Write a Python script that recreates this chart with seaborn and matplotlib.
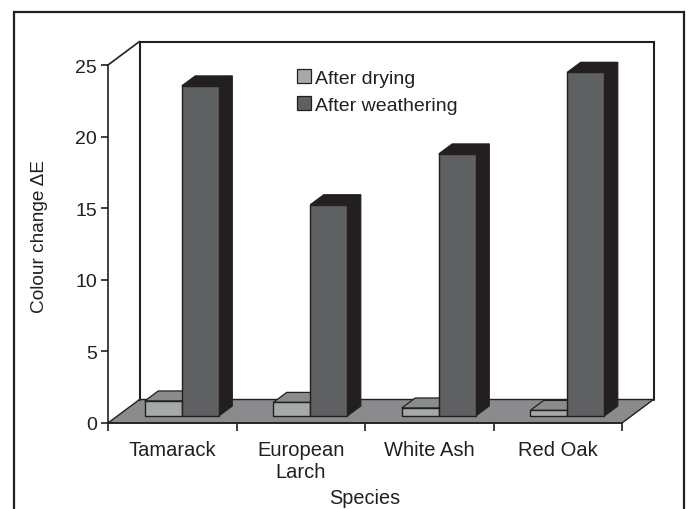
import matplotlib
matplotlib.use("Agg")
import matplotlib.pyplot as plt
import pandas as pd
import seaborn as sns
from matplotlib.lines import Line2D
from matplotlib.patches import Polygon, Rectangle, Patch
from matplotlib.transforms import Affine2D

species = ["Tamarack", "European\nLarch", "White Ash", "Red Oak"]
after_drying = [1.05, 0.95, 0.56, 0.39]
after_weathering = [23.05, 14.75, 18.3, 24.0]
series_names = ["After drying", "After weathering"]
y_ticks = [0, 5, 10, 15, 20, 25]

INK = "#231f20"
FRONT = ["#a6a9aa", "#5f6062"]
TOP = ["#8a8b8d", INK]
SIDE = ["#8a8b8d", INK]
FLOOR = "#8a8b8d"

W, H = 688, 510
sns.set_theme(style="white")
plt.rcParams["font.family"] = ["Liberation Sans", "DejaVu Sans"]
plt.rcParams["text.color"] = INK
plt.rcParams["axes.labelcolor"] = INK
plt.rcParams["xtick.color"] = INK
plt.rcParams["ytick.color"] = INK

fig = plt.figure(figsize=(W / 100, H / 100), dpi=100)
L, R, T, B = 108, 622, 66, 424
ax = fig.add_axes([L / W, 1 - B / H, (R - L) / W, (B - T) / H])

df = pd.DataFrame({
    "Species": species * 2,
    "Series": [series_names[0]] * 4 + [series_names[1]] * 4,
    "Change": after_drying + after_weathering,
})
sns.barplot(data=df, x="Species", y="Change", hue="Series", hue_order=series_names,
            palette=FRONT, width=0.576, gap=0, saturation=1, legend=False, ax=ax,
            edgecolor=INK, linewidth=1.0, errorbar=None)
ax.set_xlim(-0.5, 3.5)
ax.set_ylim(0, 25)


def shift(dx, dy):
    return ax.transData + Affine2D().translate(dx, dy)


# depth offsets in pixels (right, up)
wall = shift(31.5, 23.5)
base = shift(9.5, 7)
depth = (13.5, 10)

# floor and back wall
x0, x1 = ax.get_xlim()
ax.add_patch(Polygon([(x0, 0), (x1, 0), (x1 + 31.5 * (x1 - x0) / (R - L), 23.5 * 25 / (B - T)),
                      (x0 + 31.5 * (x1 - x0) / (R - L), 23.5 * 25 / (B - T))],
                     closed=True, facecolor=FLOOR, edgecolor=INK, lw=1.0, zorder=1, clip_on=False))
ax.plot([x0, x0, x1, x1], [0, 25, 25, 0], transform=wall, color=INK, lw=1.5,
        zorder=1.5, clip_on=False, solid_joinstyle="miter")
ax.add_line(Line2D([0, 31.5], [0, 23.5], color=INK, lw=1.2, clip_on=False, zorder=1.5,
                   transform=Affine2D().translate(L, H - T)))

# front faces moved onto the floor, extruded side and top faces
bars = [p for p in ax.patches if isinstance(p, Rectangle)]
bars = bars[:8]
dx_data = depth[0] * (x1 - x0) / (R - L)
dy_data = depth[1] * 25 / (B - T)
for i, bar in enumerate(bars):
    s = 0 if i < 4 else 1
    z = 3 + s
    a, w, h = bar.get_x(), bar.get_width(), bar.get_height()
    bar.set_transform(base)
    bar.set_clip_on(False)
    bar.set_zorder(z + 0.2)
    ax.add_patch(Polygon([(a, h), (a + w, h), (a + w + dx_data, h + dy_data), (a + dx_data, h + dy_data)],
                         closed=True, facecolor=TOP[s], edgecolor=INK, lw=0.9, transform=base,
                         clip_on=False, zorder=z))
    ax.add_patch(Polygon([(a + w, 0), (a + w + dx_data, dy_data), (a + w + dx_data, h + dy_data), (a + w, h)],
                         closed=True, facecolor=SIDE[s], edgecolor=INK, lw=0.9, transform=base,
                         clip_on=False, zorder=z))

# axes
sns.despine(ax=ax, top=True, right=True, left=False, bottom=False)
for sp in ("left", "bottom"):
    ax.spines[sp].set_color(INK)
    ax.spines[sp].set_linewidth(1.2)
    ax.spines[sp].set_zorder(2)
ax.set_yticks(y_ticks)
ax.tick_params(axis="y", left=True, length=5, width=1.2, labelsize=14, pad=3)
ax.set_xticks(range(4))
ax.set_xticklabels(species, linespacing=1.2)
ax.set_xticks([-0.5, 0.5, 1.5, 2.5, 3.5], minor=True)
ax.tick_params(axis="x", which="major", length=0, labelsize=14.5, pad=12.5)
ax.tick_params(axis="x", which="minor", bottom=True, length=6, width=1.2)
ax.set_xlabel("Species", fontsize=14.3)
ax.xaxis.set_label_coords(0.5, (B - 499) / (B - T), transform=ax.transAxes)
ax.xaxis.label.set_verticalalignment("center")
ax.set_ylabel("Colour change \u0394E", fontsize=13.7)
ax.yaxis.set_label_coords((40 - L) / (R - L), (B - 236) / (B - T), transform=ax.transAxes)
ax.yaxis.label.set_verticalalignment("center")
ax.patch.set_alpha(0)

# legend
handles = [Patch(facecolor=FRONT[0], edgecolor=INK, lw=0.9, label=series_names[0]),
           Patch(facecolor=FRONT[1], edgecolor=INK, lw=0.9, label=series_names[1])]
leg = ax.legend(handles=handles, loc="upper left", frameon=False, fontsize=14,
                bbox_to_anchor=(297 / W, 1 - 70.5 / H), bbox_transform=fig.transFigure,
                handlelength=0.7, handleheight=0.7, handletextpad=0.25, labelspacing=0.48,
                borderpad=0, borderaxespad=0)
leg.set_zorder(10)

# outer frame, open at the bottom
fig.add_artist(Line2D([14 / W, 14 / W, 684 / W, 684 / W], [0, 1 - 13 / H, 1 - 13 / H, 0],
                      color=INK, lw=1.6, transform=fig.transFigure, solid_joinstyle="miter"))

fig.savefig("out.png", dpi=100, facecolor="white")
